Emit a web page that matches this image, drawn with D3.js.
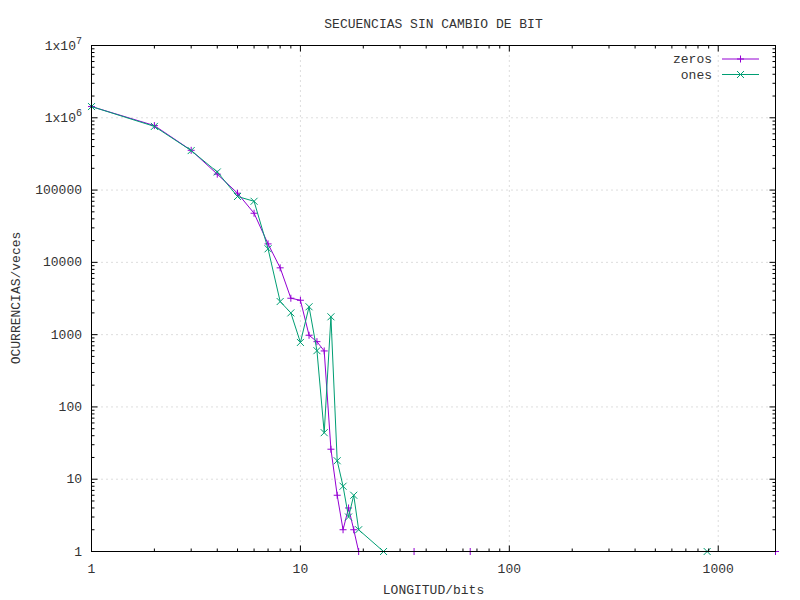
<!DOCTYPE html>
<html><head><meta charset="utf-8">
<script src="https://cdn.jsdelivr.net/npm/d3@7"></script>
<style>body{margin:0;background:#fff}svg{display:block}text{font-family:"Liberation Mono",monospace;font-size:13px;fill:#333}</style>
</head><body>
<svg id="c" width="800" height="600"></svg>
<script>
const zerosX = [1,2,3,4,5,6,7,8,9,10,11,12,13,14,15,16,17,18,19,35,65,1880];
const zerosY = [1430000,780000,355000,166000,90500,47800,18000,8400,3190,2990,980,800,595,26,6,2,4,2,1,1,1,1];
const onesX = [1,2,3,4,5,6,7,8,9,10,11,12,13,14,15,16,17,18,19,25,885];
const onesY = [1430000,760000,352000,178000,81500,70000,15400,2870,2000,780,2430,600,44,1765,18,8,3,6,2,1,1];
const xTicks = [1,10,100,1000];
const yTicks = [1,10,100,1000,10000,100000,1e6,1e7];
const yTickLabels = ["1","10","100","1000","10000","100000","1x10|6","1x10|7"];
const title = "SECUENCIAS SIN CAMBIO DE BIT";
const xLabel = "LONGITUD/bits";
const yLabel = "OCURRENCIAS/veces";
const seriesNames = ["zeros","ones"];
const colors = ["#9400d3","#009e73"];

const L=91.5,R=775.5,T=45.5,B=551.5;
const svg=d3.select("#c");
const x=d3.scaleLog().domain([1,1880]).range([L,R]);
const y=d3.scaleLog().domain([1,1e7]).range([B,T]);

// grid
const g=svg.append("g");
xTicks.filter(v=>v>1).forEach(v=>g.append("line").attr("x1",x(v)).attr("x2",x(v)).attr("y1",B).attr("y2",T)
  .attr("stroke","#bbb").attr("stroke-dasharray","1,4"));
yTicks.filter(v=>v>1&&v<1e7).forEach(v=>g.append("line").attr("x1",L).attr("x2",R).attr("y1",y(v)).attr("y2",y(v))
  .attr("stroke","#bbb").attr("stroke-dasharray","1,4"));

// series
const data=[zerosX.map((v,i)=>[v,zerosY[i]]),onesX.map((v,i)=>[v,onesY[i]])];
const line=d3.line().x(d=>x(d[0])).y(d=>y(d[1]));
function marker(sel,k,cx,cy){const s=3.5;
  if(k===0){sel.append("path").attr("d",`M${cx-s},${cy}H${cx+s}M${cx},${cy-s}V${cy+s}`).attr("stroke",colors[k]).attr("fill","none");}
  else{sel.append("path").attr("d",`M${cx-s},${cy-s}L${cx+s},${cy+s}M${cx-s},${cy+s}L${cx+s},${cy-s}`).attr("stroke",colors[k]).attr("fill","none");}}
data.forEach((d,k)=>{
  svg.append("path").datum(d).attr("d",line).attr("fill","none").attr("stroke",colors[k]).attr("stroke-width",1);
  const mg=svg.append("g");d.forEach(p=>marker(mg,k,x(p[0]),y(p[1])));});

// ticks
const tk=svg.append("g").attr("stroke","#000");
function minorVals(dom){const out=[];for(let d=1;d<dom[1];d*=10){for(let m=1;m<10;m++){const v=d*m;if(v>=dom[0]&&v<=dom[1])out.push({v,major:m===1});}}return out;}
minorVals([1,1880]).forEach(o=>{const len=o.major?6:3;const px=x(o.v);
  tk.append("line").attr("x1",px).attr("x2",px).attr("y1",B).attr("y2",B-len);
  tk.append("line").attr("x1",px).attr("x2",px).attr("y1",T).attr("y2",T+len);});
minorVals([1,1e7]).forEach(o=>{const len=o.major?6:3;const py=y(o.v);
  tk.append("line").attr("x1",L).attr("x2",L+len).attr("y1",py).attr("y2",py);
  tk.append("line").attr("x1",R).attr("x2",R-len).attr("y1",py).attr("y2",py);});

// tick labels
xTicks.forEach(v=>svg.append("text").attr("x",x(v)).attr("y",B+21).attr("text-anchor","middle").text(String(v)));
yTicks.forEach((v,i)=>{const lab=yTickLabels[i];const t=svg.append("text").attr("x",82).attr("y",y(v)+4).attr("text-anchor","end");
  if(lab.includes("|")){const p=lab.split("|");t.append("tspan").text(p[0]);t.append("tspan").attr("dy",-6).attr("font-size","10px").text(p[1]);}
  else t.text(lab);});

// border (on top of data, as in the reference)
svg.append("rect").attr("x",L).attr("y",T).attr("width",R-L).attr("height",B-T).attr("fill","none").attr("stroke","#000");

// titles
svg.append("text").attr("x",(L+R)/2).attr("y",28).attr("text-anchor","middle").text(title);
svg.append("text").attr("x",(L+R)/2).attr("y",594).attr("text-anchor","middle").text(xLabel);
svg.append("text").attr("transform","translate(20,298) rotate(-90)").attr("text-anchor","middle").text(yLabel);

// legend
seriesNames.forEach((n,k)=>{const ly=59+k*15.5;
  svg.append("text").attr("x",712).attr("y",ly+4).attr("text-anchor","end").text(n);
  svg.append("line").attr("x1",722).attr("x2",759).attr("y1",ly).attr("y2",ly).attr("stroke",colors[k]);
  marker(svg,k,740.5,ly);});
</script>
</body></html>
